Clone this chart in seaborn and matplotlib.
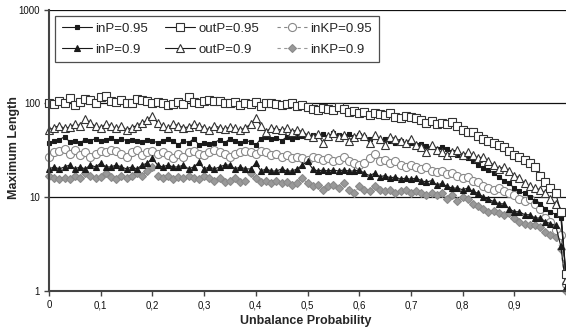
import numpy as np
import pandas as pd
import matplotlib
matplotlib.use("Agg")
import matplotlib.pyplot as plt
import seaborn as sns

# x grid: unbalance probability in steps of 0.01
x = [i / 100 for i in range(101)]

outP95 = [100, 98, 106, 100, 114, 96, 104, 110, 108, 102,
          116, 121, 106, 104, 108, 102, 100, 112, 108, 106,
          102, 104, 100, 96, 98, 104, 98, 116, 104, 100,
          106, 108, 106, 106, 100, 102, 104, 96, 100, 98,
          104, 94, 100, 102, 98, 96, 98, 100, 94, 96,
          92, 88, 85, 90, 86, 84, 92, 88, 80, 82,
          78, 80, 76, 78, 77, 75, 78, 72, 70, 74,
          72, 70, 66, 62, 65, 60, 62, 60, 64, 58,
          52, 50, 49, 45, 42, 40, 38, 36, 34, 31,
          28, 27, 25, 23, 21, 17, 14.5, 12.5, 11, 7,
          1.5]

outP90 = [52, 55, 58, 54, 56, 60, 58, 68, 62, 57,
          55, 60, 58, 54, 57, 52, 55, 58, 62, 66,
          74, 62, 57, 54, 60, 58, 55, 56, 60, 58,
          55, 52, 58, 55, 53, 56, 54, 52, 55, 60,
          70, 58, 50, 55, 53, 52, 54, 50, 52, 50,
          46, 44, 47, 38, 45, 48, 44, 46, 40, 44,
          47, 45, 38, 46, 42, 36, 44, 42, 40, 38,
          42, 36, 34, 30, 36, 32, 30, 28, 30, 32,
          28, 30, 28, 26, 27, 24, 22, 20, 21, 19,
          17, 16, 14, 13, 12.5, 12, 11, 9.5, 8.5, 7,
          1.3]

inP95 = [38, 40, 41, 44, 39, 40, 38, 41, 40, 42,
         40, 41, 43, 40, 42, 40, 41, 40, 39, 41,
         40, 38, 40, 42, 40, 36, 40, 38, 42, 36,
         38, 37, 38, 41, 38, 42, 40, 38, 40, 39,
         36, 42, 44, 42, 43, 40, 44, 42, 44, 45,
         44, 46, 45, 47, 44, 48, 46, 45, 47, 44,
         46, 44, 42, 44, 40, 42, 40, 38, 40, 37,
         38, 36, 37, 35, 34, 33, 34, 33, 30, 28,
         27, 26, 24, 22, 20.5, 19.5, 18, 16.5, 15, 14,
         12.5, 11.5, 11, 10, 9, 8.5, 7.5, 7, 6.5, 6,
         1.5]

inKP95 = [27, 30, 31, 33, 29, 32, 28, 30, 27, 29,
          31, 30, 32, 31, 29, 27, 30, 32, 28, 30,
          31, 29, 30, 28, 26, 29, 27, 30, 31, 29,
          28, 30, 32, 30, 29, 27, 29, 30, 31, 30,
          29, 31, 30, 28, 29, 27, 28, 26, 27, 26,
          25, 27, 26, 25, 26, 24, 25, 27, 24, 23,
          22, 23, 26, 29, 24, 25, 23, 24, 22, 21,
          22, 21, 20, 21, 19, 18.5, 19, 17.5, 18, 17,
          16, 16.5, 15, 14.5, 13, 12.5, 12, 12.5, 11.5, 11,
          10.5, 9.5, 9, 9.5, 8.5, 7.5, 6, 5.5, 4.5, 4,
          1.2]

inP90 = [20, 21, 20, 21, 22, 20, 21, 20, 22, 21,
         23, 21, 21, 22, 21, 20, 21, 20, 22, 23,
         26, 22, 21, 22, 21, 21, 22, 20, 21, 23.5,
         20, 21, 20, 21, 22, 22, 20, 21, 20, 20,
         23, 19, 20, 19, 19, 20, 19, 19, 20, 22,
         24, 20, 19, 19.5, 19, 19.5, 19, 19.5, 19, 19,
         19.5, 18, 17, 18, 16.5, 17, 16, 16.5, 15.5, 16,
         15.5, 16, 15, 14.5, 15, 13.5, 14, 13, 12.5, 12.5,
         12, 12.5, 11.5, 11, 10, 9.5, 9, 8.5, 8.5, 7.5,
         7, 7, 6.5, 6.5, 6, 6, 5.5, 5.2, 5, 3,
         1.1]

inKP90 = [17, 16, 15.5, 16, 15.5, 17, 16, 18, 17, 16,
          16.5, 18, 16.5, 15.5, 17, 16, 17, 18, 17, 19,
          21, 17, 16, 17, 15.5, 16.5, 16, 17, 16, 15.5,
          17, 16, 15, 16, 14.5, 15, 16, 14.5, 15, 18,
          16, 14.5, 15, 14, 15, 14, 14.5, 13.5, 14, 16,
          14, 13, 13.5, 12, 13, 13.5, 12.5, 14, 12, 11,
          13, 12, 11.5, 13, 12, 11.5, 12, 11, 11.5, 12,
          11, 11.5, 11, 10.5, 11, 10.5, 11, 9.5, 10.5, 9,
          10, 9.5, 8.5, 8, 7.5, 7, 7.2, 6.8, 6.5, 6.8,
          6, 5.5, 5.2, 5, 5, 4.8, 4.3, 4, 3.8, 2.8,
          1]

labels = ["inP=0.95", "inP=0.9", "outP=0.95", "outP=0.9", "inKP=0.95", "inKP=0.9"]
series = [inP95, inP90, outP95, outP90, inKP95, inKP90]
xticks = [0, 0.1, 0.2, 0.3, 0.4, 0.5, 0.6, 0.7, 0.8, 0.9]
xticklabels = ["0", "0,1", "0,2", "0,3", "0,4", "0,5", "0,6", "0,7", "0,8", "0,9"]
yticks = [1, 10, 100, 1000]
yticklabels = ["1", "10", "100", "1000"]

sns.set_theme(style="white")
plt.rcParams["font.family"] = ["Liberation Sans", "DejaVu Sans"]

fig = plt.figure(figsize=(5.66, 3.31), dpi=100)
ax = fig.add_axes([49 / 566, 40 / 331, 517 / 566, 281.5 / 331])

styles = {
    "inP=0.95": dict(marker="s", markersize=3.4, markerfacecolor="#1a1a1a",
                     markeredgecolor="#1a1a1a", color="#1a1a1a", linestyle="-"),
    "inP=0.9": dict(marker="^", markersize=4.0, markerfacecolor="#1a1a1a",
                    markeredgecolor="#1a1a1a", color="#1a1a1a", linestyle="-"),
    "outP=0.95": dict(marker="s", markersize=5.6, markerfacecolor="white",
                      markeredgecolor="#333333", color="#1a1a1a", linestyle="-"),
    "outP=0.9": dict(marker="^", markersize=6.2, markerfacecolor="white",
                     markeredgecolor="#333333", color="#1a1a1a", linestyle="-"),
    "inKP=0.95": dict(marker="o", markersize=5.8, markerfacecolor="white",
                      markeredgecolor="#888888", color="#888888", linestyle=(0, (3, 3))),
    "inKP=0.9": dict(marker="D", markersize=4.4, markerfacecolor="#999999",
                     markeredgecolor="#8a8a8a", color="#999999", linestyle=(0, (3, 3))),
}

# draw order: inKP below, outP on top
order = ["inKP=0.9", "inKP=0.95", "inP=0.9", "inP=0.95", "outP=0.9", "outP=0.95"]
for name in order:
    vals = series[labels.index(name)]
    df = pd.DataFrame({"x": x, "y": vals})
    sns.lineplot(data=df, x="x", y="y", ax=ax, label=name, linewidth=0.8,
                 markeredgewidth=0.8, clip_on=False, **styles[name])

ax.set_yscale("log")
ax.set_ylim(1, 1000)
ax.set_xlim(0, 1.0)
ax.set_yticks(yticks)
ax.set_yticklabels(yticklabels)
ax.yaxis.set_minor_locator(matplotlib.ticker.NullLocator())
ax.set_xticks(xticks)
ax.set_xticklabels(xticklabels)

ax.grid(False)
for yv in [10, 100, 1000]:
    ax.axhline(yv, color="#111111", linewidth=0.9, zorder=0.5)

for s in ["top", "right"]:
    ax.spines[s].set_visible(False)
for s in ["left", "bottom"]:
    ax.spines[s].set_color("#444444")
    ax.spines[s].set_linewidth(1.5)

ax.tick_params(axis="both", which="major", direction="out", length=3.5, width=1,
               color="#444444", labelsize=7, pad=3, left=True, bottom=True,
               labelcolor="#111111")

ax.set_xlabel("Unbalance Probability", fontsize=9, fontweight="bold")
ax.xaxis.set_label_coords((306 - 49) / 517, -(321 - 291) / 281.5)
ax.xaxis.label.set_va("center")
ax.set_ylabel("Maximum Length", fontsize=9, fontweight="bold")
ax.yaxis.set_label_coords(-(49 - 14) / 517, (291 - 148) / 281.5)
ax.yaxis.label.set_va("center")

handles, labs = ax.get_legend_handles_labels()
hmap = dict(zip(labs, handles))
leg = ax.legend([hmap[l] for l in labels], labels, ncol=3, loc="upper left",
                bbox_to_anchor=(0.0116, 0.977), borderaxespad=0, frameon=True,
                fancybox=False, edgecolor="#222222", fontsize=9.5,
                handlelength=2.3, handletextpad=0.25, columnspacing=1.3,
                labelspacing=0.65, borderpad=0.5)
leg.get_frame().set_linewidth(0.9)

fig.savefig("out.png", dpi=100)
